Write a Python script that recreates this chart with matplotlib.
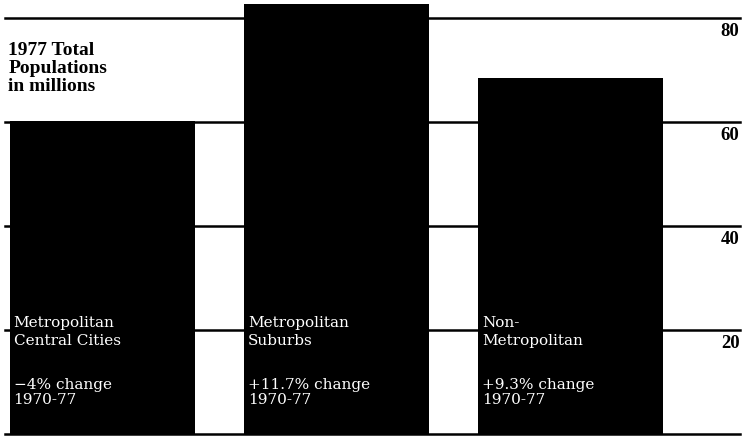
import matplotlib.pyplot as plt

# 1977 total populations, millions
groups = ["Metropolitan\nCentral Cities", "Metropolitan\nSuburbs", "Non-\nMetropolitan"]
changes = ["\u22124% change\n1970-77", "+11.7% change\n1970-77", "+9.3% change\n1970-77"]
population = [60.2, 82.7, 68.5]
ticks = [20, 40, 60, 80]

plt.rcParams['font.family'] = ['Liberation Serif', 'DejaVu Serif']

fig = plt.figure(figsize=(7.47, 4.38), dpi=100)
ax = fig.add_axes([0, 0, 1, 1])
ax.set_xlim(-0.436, 2.754)
ax.set_ylim(-0.77, 83.46)
ax.axis('off')

# gridlines behind bars
for t in ticks + [0]:
    ax.axhline(t, xmin=0.007, xmax=0.99, color='black', lw=1.8, zorder=1)
    if t > 0:
        ax.text(0.99, t - 1.0, str(t), transform=ax.get_yaxis_transform(),
                ha='right', va='top', fontsize=13.5, fontweight='bold')

x = range(len(population))
bars = ax.bar(x, population, width=0.79, color='black', zorder=2)

for b, g, c in zip(bars, groups, changes):
    left = b.get_x() + 0.017
    ax.text(left, 22.6, g, color='white', ha='left', va='top', family='DejaVu Serif',
            fontsize=11, linespacing=1.3, zorder=3)
    ax.text(left, 10.8, c, color='white', ha='left', va='top', family='DejaVu Serif',
            fontsize=11, linespacing=1.1, zorder=3)

ax.text(0.011, 0.905, "1977 Total\nPopulations\nin millions", transform=ax.transAxes,
        ha='left', va='top', fontsize=14, fontweight='bold', linespacing=1.08)

fig.savefig("out.png", dpi=100)
